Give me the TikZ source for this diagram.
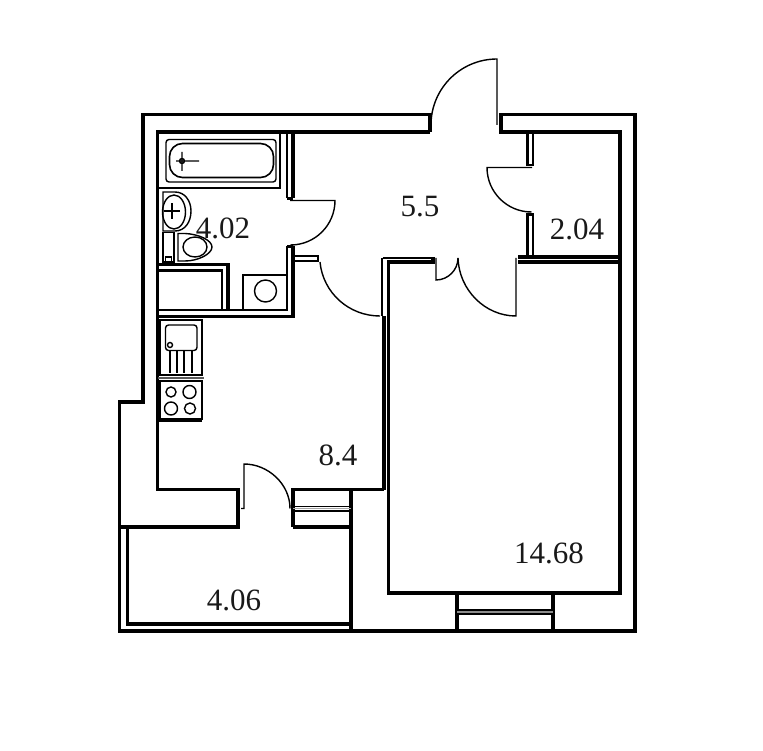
\documentclass[tikz,border=0pt]{standalone}
\usepackage{fontspec}
\setmainfont{Liberation Serif}
\tikzset{
  wall/.style={line width=3.8pt,miter limit=4},
  thinwall/.style={line width=2.4pt},
  fine/.style={line width=1.4pt},
  area/.style={inner sep=0pt,font=\fontsize{31}{31}\selectfont,text=black!90}
}
\begin{document}
\begin{tikzpicture}[x=1pt,y=-1pt]
  \useasboundingbox (0,0) rectangle (763,751);
  % outer shell
  \draw[wall] (430,132) -- (430,114.5) -- (143,114.5) -- (143,402) -- (119.5,402) -- (119.5,631) -- (635,631) -- (635,114.5) -- (501,114.5) -- (501,132) -- (620,132) -- (620,593) -- (388.5,593) -- (388.5,262) -- (433,262) -- (433,257);
  \draw[wall] (430,132) -- (157.5,132) -- (157.5,489.5) -- (238,489.5) -- (238,527) -- (119.5,527);
  \draw[thinwall] (382.5,258) -- (433,258);
  \draw[wall] (384,489.5) -- (384,316);
  \draw[thinwall] (382,316) -- (382,258);
  \draw[wall] (293,527) -- (293,489.5) -- (384,489.5);
  \draw[wall] (293,527) -- (351,527);
  \draw[wall] (351,489.5) -- (351,631);
  % balcony rail
  \draw[wall] (127.5,527) -- (127.5,624) -- (351,624);
  % windows
  \draw[wall] (457,593) -- (457,631) (553,593) -- (553,631);
  \draw[line width=3.5pt,black!45] (457,612) -- (553,612);
  \draw[fine] (457,610) -- (553,610) (457,614) -- (553,614);
  \draw[line width=1.8pt,black!35] (293,508.5) -- (351,508.5);
  \draw[fine] (293,506.5) -- (351,506.5) (293,511) -- (351,511);
  % partition walls
  \draw[wall] (518,257) -- (620,257);
  \draw[wall] (518,262) -- (620,262);
  \draw[line width=1.4pt,white] (534,259.5) -- (618,259.5);
  \draw[thinwall] (527.5,132) -- (527.5,165) -- (533,165) -- (533,132);
  \draw[thinwall] (527.5,258) -- (527.5,214.5) -- (533,214.5) -- (533,258);
  \draw[thinwall] (287,132) -- (287,198);
  \draw[wall] (293,132) -- (293,198);
  \draw[thinwall] (287,198.5) -- (293,198.5);
  \draw[wall] (293,246) -- (293,316.5) -- (157.5,316.5);
  \draw[thinwall] (287,246) -- (287,310) -- (157.5,310);
  \draw[thinwall] (287,246.5) -- (293,246.5);
  \draw[thinwall] (293,256) -- (318,256) -- (318,261) -- (293,261);
  % shaft
  \draw[wall] (157.5,264.5) -- (228,264.5) -- (228,310);
  \draw[thinwall] (157.5,270.5) -- (222,270.5) -- (222,310);
  % doors
  \draw[fine] (497,125) -- (497,59) arc (-90:-180:66);
  \draw[fine] (532,167.5) -- (487,167.5) arc (180:90:44.5);
  \draw[fine] (290,200.5) -- (335,200.5) arc (0:90:44.5);
  \draw[fine] (320,262) .. controls (323,293) and (349,316) .. (380,316);
  \draw[fine] (436,258) -- (436,280) .. controls (448,280) and (458,270) .. (458,258);
  \draw[fine] (458,258) .. controls (459,290) and (485,316) .. (516,316) -- (516,258);
  \draw[fine] (241,508.5) -- (244,508.5) -- (244,464) .. controls (268,464) and (290,484) .. (290,508.5);
  % bath
  \draw[fine] (157.5,188) -- (280,188) -- (280,132);
  \draw[fine,rounded corners=3pt] (166,139.5) rectangle (276,182);
  \draw[line width=1.6pt,rounded corners=13pt] (169.5,143.5) rectangle (273.5,177.5);
  \draw[fine] (182,161) circle (2.5) (176,161) -- (199,161) (182,152) -- (182,171);
  % wash basin
  \draw[fine] (163,192) -- (175,192) .. controls (185,192) and (191,201) .. (191,211) .. controls (191,222) and (185,231) .. (175,231) -- (163,231) -- cycle;
  \draw[fine] (174,212) ellipse (11.5 and 17);
  \draw[fine] (172,203.5) -- (172,219) (164,211) -- (180,211);
  % toilet
  \draw[fine] (163,232.5) rectangle (174,262);
  \draw[fine] (165.5,262) -- (165.5,257) -- (171.5,257) -- (171.5,262);
  \draw[fine] (178,233.5) -- (185,233.5) .. controls (198,234) and (212,240) .. (212,247) .. controls (212,254) and (198,261) .. (185,261) -- (178,261) -- cycle;
  \draw[fine] (195,247) ellipse (12 and 10);
  % washing machine
  \draw[fine] (243,275) rectangle (287,310);
  \draw[fine] (265.5,291) circle (11);
  % kitchen sink
  \draw[fine] (160,320) rectangle (202,375);
  \draw[thinwall,black!65] (158,378) -- (204,378);
  \draw[fine,rounded corners=3pt] (165.5,325) rectangle (197,350.5);
  \draw[fine] (170,345) circle (2.5);
  \draw[fine] (170,350.5) -- (170,373) (177,350.5) -- (177,373) (184,350.5) -- (184,373) (192,350.5) -- (192,373);
  % hob
  \draw[fine] (160,381) rectangle (202,419);
  \draw[wall] (158,420) -- (202,420);
  \draw[fine] (171,392) circle (5) (189.5,392) circle (6.5) (171,408.5) circle (6.5) (190,408.5) circle (5.5);
  % areas
  \node[area] (bath) at (223,228) {4.02};
  \node[area] (hall) at (420,207) {5.5};
  \node[area] (closet) at (577,229) {2.04};
  \node[area] (kitchen) at (338,455) {8.4};
  \node[area] (room) at (549,553) {14.68};
  \node[area] (balcony) at (234,600) {4.06};
\end{tikzpicture}
\end{document}
